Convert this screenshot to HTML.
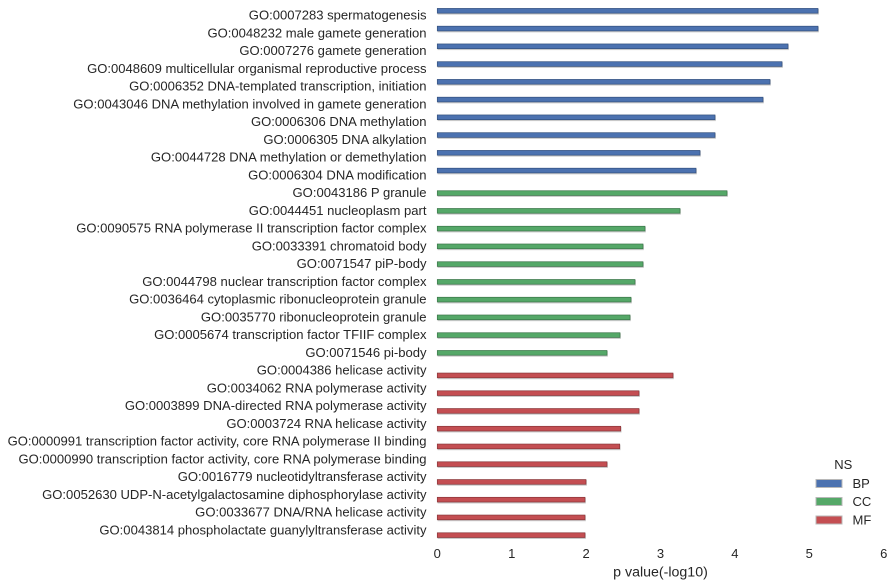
<!DOCTYPE html>
<html>
<head>
<meta charset="utf-8">
<style>
html,body{margin:0;padding:0;background:#fff;}
svg{display:block;}
text{font-family:"Liberation Sans",Arial,sans-serif;fill:#262626;}
</style>
</head>
<body>
<svg width="893" height="587" viewBox="0 0 893 587" xmlns="http://www.w3.org/2000/svg">
<g font-size="13.05" text-anchor="end">
<text x="426.5" y="19.6">GO:0007283 spermatogenesis</text>
<text x="426.5" y="37.35">GO:0048232 male gamete generation</text>
<text x="426.5" y="55.1">GO:0007276 gamete generation</text>
<text x="426.5" y="72.85">GO:0048609 multicellular organismal reproductive process</text>
<text x="426.5" y="90.6">GO:0006352 DNA-templated transcription, initiation</text>
<text x="426.5" y="108.35">GO:0043046 DNA methylation involved in gamete generation</text>
<text x="426.5" y="126.1">GO:0006306 DNA methylation</text>
<text x="426.5" y="143.85">GO:0006305 DNA alkylation</text>
<text x="426.5" y="161.6">GO:0044728 DNA methylation or demethylation</text>
<text x="426.5" y="179.35">GO:0006304 DNA modification</text>
<text x="426.5" y="197.1">GO:0043186 P granule</text>
<text x="426.5" y="214.85">GO:0044451 nucleoplasm part</text>
<text x="426.5" y="232.6">GO:0090575 RNA polymerase II transcription factor complex</text>
<text x="426.5" y="250.35">GO:0033391 chromatoid body</text>
<text x="426.5" y="268.1">GO:0071547 piP-body</text>
<text x="426.5" y="285.85">GO:0044798 nuclear transcription factor complex</text>
<text x="426.5" y="303.6">GO:0036464 cytoplasmic ribonucleoprotein granule</text>
<text x="426.5" y="321.35">GO:0035770 ribonucleoprotein granule</text>
<text x="426.5" y="339.1">GO:0005674 transcription factor TFIIF complex</text>
<text x="426.5" y="356.85">GO:0071546 pi-body</text>
<text x="426.5" y="374.6">GO:0004386 helicase activity</text>
<text x="426.5" y="392.35">GO:0034062 RNA polymerase activity</text>
<text x="426.5" y="410.1">GO:0003899 DNA-directed RNA polymerase activity</text>
<text x="426.5" y="427.85">GO:0003724 RNA helicase activity</text>
<text x="426.5" y="445.6">GO:0000991 transcription factor activity, core RNA polymerase II binding</text>
<text x="426.5" y="463.35">GO:0000990 transcription factor activity, core RNA polymerase binding</text>
<text x="426.5" y="481.1">GO:0016779 nucleotidyltransferase activity</text>
<text x="426.5" y="498.85">GO:0052630 UDP-N-acetylgalactosamine diphosphorylase activity</text>
<text x="426.5" y="516.6">GO:0033677 DNA/RNA helicase activity</text>
<text x="426.5" y="534.35">GO:0043814 phospholactate guanylyltransferase activity</text>
</g>

<!-- shadows -->
<g fill="#c8c8c8">
<rect x="437.6" y="9.0" width="381.2" height="5.6"/>
<rect x="437.6" y="26.75" width="381.2" height="5.6"/>
<rect x="437.6" y="44.5" width="351.2" height="5.6"/>
<rect x="437.6" y="62.25" width="345.2" height="5.6"/>
<rect x="437.6" y="80.0" width="333.2" height="5.6"/>
<rect x="437.6" y="97.75" width="326.2" height="5.6"/>
<rect x="437.6" y="115.5" width="278.2" height="5.6"/>
<rect x="437.6" y="133.25" width="278.2" height="5.6"/>
<rect x="437.6" y="151.0" width="263.2" height="5.6"/>
<rect x="437.6" y="168.75" width="259.2" height="5.6"/>
<rect x="437.6" y="191.3" width="290.2" height="5.6"/>
<rect x="437.6" y="209.05" width="243.2" height="5.6"/>
<rect x="437.6" y="226.8" width="208.2" height="5.6"/>
<rect x="437.6" y="244.55" width="206.2" height="5.6"/>
<rect x="437.6" y="262.3" width="206.2" height="5.6"/>
<rect x="437.6" y="280.05" width="198.2" height="5.6"/>
<rect x="437.6" y="297.8" width="194.2" height="5.6"/>
<rect x="437.6" y="315.55" width="193.2" height="5.6"/>
<rect x="437.6" y="333.3" width="183.2" height="5.6"/>
<rect x="437.6" y="351.05" width="170.2" height="5.6"/>
<rect x="437.6" y="373.6" width="236.2" height="5.6"/>
<rect x="437.6" y="391.35" width="202.2" height="5.6"/>
<rect x="437.6" y="409.1" width="202.2" height="5.6"/>
<rect x="437.6" y="426.85" width="183.9" height="5.6"/>
<rect x="437.6" y="444.6" width="182.9" height="5.6"/>
<rect x="437.6" y="462.35" width="170.2" height="5.6"/>
<rect x="437.6" y="480.1" width="149.2" height="5.6"/>
<rect x="437.6" y="497.85" width="148.2" height="5.6"/>
<rect x="437.6" y="515.6" width="148.2" height="5.6"/>
<rect x="437.6" y="533.35" width="148.2" height="5.6"/>
</g>

<g fill="#4c72b0" stroke="#34507e" stroke-width="0.7">
<rect x="437.3" y="8.45" width="380.7" height="4.7"/>
<rect x="437.3" y="26.2" width="380.7" height="4.7"/>
<rect x="437.3" y="43.95" width="350.7" height="4.7"/>
<rect x="437.3" y="61.7" width="344.7" height="4.7"/>
<rect x="437.3" y="79.45" width="332.7" height="4.7"/>
<rect x="437.3" y="97.2" width="325.7" height="4.7"/>
<rect x="437.3" y="114.95" width="277.7" height="4.7"/>
<rect x="437.3" y="132.7" width="277.7" height="4.7"/>
<rect x="437.3" y="150.45" width="262.7" height="4.7"/>
<rect x="437.3" y="168.2" width="258.7" height="4.7"/>
</g>
<g fill="#55a868" stroke="#3b7549" stroke-width="0.7">
<rect x="437.3" y="190.75" width="289.7" height="4.7"/>
<rect x="437.3" y="208.5" width="242.7" height="4.7"/>
<rect x="437.3" y="226.25" width="207.7" height="4.7"/>
<rect x="437.3" y="244.0" width="205.7" height="4.7"/>
<rect x="437.3" y="261.75" width="205.7" height="4.7"/>
<rect x="437.3" y="279.5" width="197.7" height="4.7"/>
<rect x="437.3" y="297.25" width="193.7" height="4.7"/>
<rect x="437.3" y="315.0" width="192.7" height="4.7"/>
<rect x="437.3" y="332.75" width="182.7" height="4.7"/>
<rect x="437.3" y="350.5" width="169.7" height="4.7"/>
</g>
<g fill="#c44e52" stroke="#893639" stroke-width="0.7">
<rect x="437.3" y="373.05" width="235.7" height="4.7"/>
<rect x="437.3" y="390.8" width="201.7" height="4.7"/>
<rect x="437.3" y="408.55" width="201.7" height="4.7"/>
<rect x="437.3" y="426.3" width="183.4" height="4.7"/>
<rect x="437.3" y="444.05" width="182.4" height="4.7"/>
<rect x="437.3" y="461.8" width="169.7" height="4.7"/>
<rect x="437.3" y="479.55" width="148.7" height="4.7"/>
<rect x="437.3" y="497.3" width="147.7" height="4.7"/>
<rect x="437.3" y="515.05" width="147.7" height="4.7"/>
<rect x="437.3" y="532.8" width="147.7" height="4.7"/>
</g>

<!-- x ticks -->
<g font-size="13" text-anchor="middle">
<text x="437.3" y="557.8">0</text>
<text x="511.7" y="557.8">1</text>
<text x="586.1" y="557.8">2</text>
<text x="660.5" y="557.8">3</text>
<text x="734.9" y="557.8">4</text>
<text x="809.3" y="557.8">5</text>
<text x="883.7" y="557.8">6</text>
</g>
<text x="660.5" y="576.5" font-size="14.2" text-anchor="middle">p value(-log10)</text>

<!-- legend -->
<text x="843.3" y="469" font-size="13" text-anchor="middle">NS</text>
<g stroke="#b8b8b8" stroke-width="1">
<rect x="816" y="479.5" width="26" height="8" fill="#4c72b0"/>
<rect x="816" y="497.5" width="26" height="8" fill="#55a868"/>
<rect x="816" y="516" width="26" height="8" fill="#c44e52"/>
</g>
<g font-size="13">
<text x="852.5" y="488.2">BP</text>
<text x="852.5" y="506.2">CC</text>
<text x="852.5" y="524.7">MF</text>
</g>
</svg>
</body>
</html>
